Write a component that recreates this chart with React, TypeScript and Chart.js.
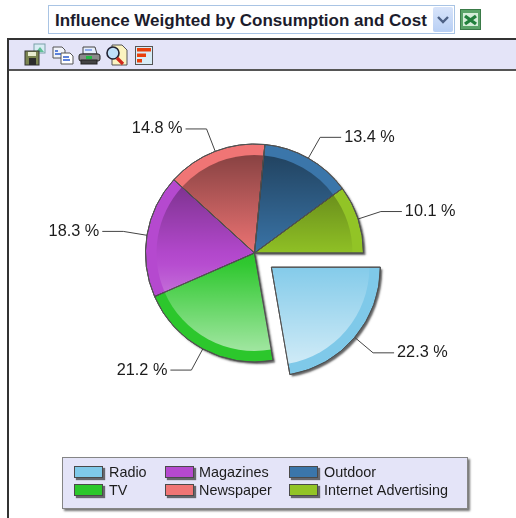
import React, { useEffect, useRef } from "react";
import { Chart, registerables } from "chart.js";

Chart.register(...registerables);

const categories = ["Radio", "TV", "Magazines", "Newspaper", "Outdoor", "Internet Advertising"];
const values = [22.3, 21.2, 18.3, 14.8, 13.4, 10.1];
const colors = ["#7fc9e9", "#2cc72c", "#b549cf", "#f07575", "#3b76aa", "#92c426"];
const explode = [22, 0, 0, 0, 0, 0];
const legendOrder = [[0, 1], [2, 3], [4, 5]];
const legendSwatchX = [65, 156, 280];
const legendTextX = [100, 190, 315];
const FONT = '"Liberation Sans", Arial, sans-serif';

const piePlugin = {
  id: "pieDecor",
  afterDatasetUpdate(chart: any) {
    const arcs = chart.getDatasetMeta(0).data;
    arcs.forEach((el: any, i: number) => {
      const d = explode[i];
      if (!d) return;
      const mid = (el.startAngle + el.endAngle) / 2;
      el.x += Math.cos(mid) * d;
      el.y += Math.sin(mid) * d;
    });
  },
  beforeDatasetDraw(chart: any) {
    const c = chart.ctx;
    const arcs = chart.getDatasetMeta(0).data;
    c.save();
    c.shadowColor = "rgba(60,60,60,0.8)";
    c.shadowBlur = 2;
    c.shadowOffsetX = 2;
    c.shadowOffsetY = 2;
    c.fillStyle = "#666";
    arcs.forEach((el: any) => {
      c.beginPath();
      c.moveTo(el.x, el.y);
      c.arc(el.x, el.y, el.outerRadius, el.startAngle, el.endAngle);
      c.closePath();
      c.fill();
    });
    c.restore();
  },
  afterDatasetDraw(chart: any) {
    const c = chart.ctx;
    const arcs = chart.getDatasetMeta(0).data;
    const baseY = arcs[1].y;
    arcs.forEach((el: any, idx: number) => {
      const mid = (el.startAngle + el.endAngle) / 2;
      const cx = el.x;
      const cy = el.y;
      const R = el.outerRadius;
      const g = c.createLinearGradient(0, baseY - R, 0, baseY + R);
      g.addColorStop(0, "rgba(0,0,0,0.48)");
      g.addColorStop(0.5, "rgba(0,0,0,0.02)");
      g.addColorStop(0.55, "rgba(255,255,255,0.02)");
      g.addColorStop(1, "rgba(255,255,255,0.62)");
      c.save();
      c.beginPath();
      c.moveTo(cx, cy);
      c.arc(cx, cy, R - 11, el.startAngle, el.endAngle);
      c.closePath();
      c.fillStyle = g;
      c.fill();
      c.beginPath();
      c.moveTo(cx, cy);
      c.arc(cx, cy, R, el.startAngle, el.endAngle);
      c.closePath();
      c.strokeStyle = "#505050";
      c.lineWidth = 1;
      c.stroke();
      c.restore();

      const edgeX = cx + Math.cos(mid) * R;
      const edgeY = cy + Math.sin(mid) * R;
      const elbowX = cx + Math.cos(mid) * (R + 24);
      const elbowY = cy + Math.sin(mid) * (R + 24);
      const right = Math.cos(mid) >= 0;
      const endX = elbowX + (right ? 21 : -21);
      c.save();
      c.beginPath();
      c.moveTo(edgeX, edgeY);
      c.lineTo(elbowX, elbowY);
      c.lineTo(endX, elbowY);
      c.strokeStyle = "#444";
      c.lineWidth = 1;
      c.stroke();
      c.fillStyle = "#1c1c1c";
      c.font = "16.3px " + FONT;
      c.textBaseline = "middle";
      c.textAlign = right ? "left" : "right";
      c.fillText(values[idx].toFixed(1) + " %", endX + (right ? 3 : -3), elbowY);
      c.restore();
    });
  },
  afterDraw(chart: any) {
    const c = chart.ctx;
    c.save();
    c.shadowColor = "rgba(60,60,60,0.7)";
    c.shadowBlur = 2;
    c.shadowOffsetX = 2;
    c.shadowOffsetY = 2;
    c.fillStyle = "#e4e4f8";
    c.fillRect(53, 386, 406, 52);
    c.shadowColor = "transparent";
    c.strokeStyle = "#858585";
    c.lineWidth = 1;
    c.strokeRect(53.5, 386.5, 405, 51);
    legendOrder.forEach((col, ci) => {
      col.forEach((idx, ri) => {
        const y = 395 + ri * 18;
        c.save();
        c.shadowColor = "rgba(50,50,50,0.7)";
        c.shadowBlur = 1;
        c.shadowOffsetX = 2;
        c.shadowOffsetY = 2;
        c.fillStyle = colors[idx];
        c.fillRect(legendSwatchX[ci], y, 29, 12);
        c.restore();
        c.strokeStyle = "#4a4a4a";
        c.lineWidth = 1;
        c.strokeRect(legendSwatchX[ci] + 0.5, y + 0.5, 28, 11);
        c.fillStyle = "#1c1c1c";
        c.font = "14.4px " + FONT;
        c.textBaseline = "middle";
        c.textAlign = "left";
        c.fillText(categories[idx], legendTextX[ci], y + 7);
      });
    });
    c.restore();
  },
};

function Toolbar() {
  return (
    <svg width={150} height={30} style={{ position: "absolute", left: 15, top: 40, filter: "blur(0.35px)" }}>
      {/* save */}
      <rect x="19" y="4" width="11" height="9" fill="#d8ecf4" stroke="#7aa0a8" />
      <path d="M21 12l4-5 4 5z" fill="#5fbf95" />
      <rect x="10" y="11" width="14" height="14" fill="#7a8450" stroke="#333" />
      <rect x="14" y="18" width="7" height="7" fill="#2c2c2c" />
      <rect x="13" y="12" width="8" height="4" fill="#e8ecd0" />
      {/* copy */}
      <path d="M38 7h9l3 3v8h-12z" fill="#f2f4fa" stroke="#555" />
      <path d="M46 13h9l3 3v8h-12z" fill="#fff" stroke="#555" />
      <path d="M40 11h3M40 14h6M48 17h6M48 20h7" stroke="#2b5bd0" strokeWidth="1.5" />
      {/* print */}
      <path d="M68 7h12l2 7h-14z" fill="#e6eefb" stroke="#444" />
      <path d="M70 10h7" stroke="#3a68d8" />
      <rect x="64" y="14" width="21" height="7" rx="2" fill="#8a8a8a" stroke="#222" />
      <rect x="66" y="20" width="16" height="4" fill="#444" stroke="#222" />
      <rect x="71" y="16" width="6" height="3" fill="#22bb44" />
      {/* preview */}
      <path d="M97 5h10l5 5v15h-15z" fill="#fbf3c0" stroke="#555" />
      <circle cx="98" cy="13" r="6" fill="#bfe0fb" stroke="#223" strokeWidth="1.6" />
      <path d="M102 18l6 6" stroke="#d0281c" strokeWidth="3.2" />
      {/* chart */}
      <rect x="120.5" y="6.5" width="17" height="18" fill="#d8ecf6" stroke="#555" />
      <rect x="122" y="8" width="14" height="3.5" fill="#e8400c" />
      <rect x="122" y="13.5" width="9" height="3.5" fill="#e8400c" />
      <rect x="122" y="19" width="5" height="3.5" fill="#e8400c" />
    </svg>
  );
}

export default function App() {
  const ref = useRef<HTMLCanvasElement | null>(null);
  useEffect(() => {
    if (!ref.current) return;
    const chart = new Chart(ref.current, {
      type: "pie",
      data: {
        labels: categories,
        datasets: [
          {
            data: values,
            backgroundColor: colors,
            borderColor: "#505050",
            borderWidth: 1,
          } as any,
        ],
      },
      options: {
        responsive: false,
        animation: false,
        rotation: 90,
        radius: 109,
        layout: { padding: { left: 0, top: 0, right: 16, bottom: 83 } },
        plugins: { legend: { display: false }, tooltip: { enabled: false }, title: { display: false } },
      } as any,
      plugins: [piePlugin],
    });
    return () => chart.destroy();
  }, []);

  return (
    <div style={{ position: "absolute", left: 0, top: 0, width: 516, height: 518, overflow: "hidden", background: "#fff", fontFamily: FONT }}>
      <div style={{ position: "absolute", left: 48, top: 5, width: 405, height: 27, border: "1px solid #a9c4e4", background: "#fff" }}>
        <span style={{ position: "absolute", left: 6, top: 5, fontWeight: 700, fontSize: 17, lineHeight: "20px", color: "#1c1c2c", whiteSpace: "nowrap" }}>
          Influence Weighted by Consumption and Cost
        </span>
        <div style={{ position: "absolute", right: 1, top: 1, width: 20, height: 25, background: "linear-gradient(#d8e4fa,#b8cff4)", borderRadius: 2 }}>
          <svg width={20} height={25}>
            <path d="M5 10l5 5 5-5" fill="none" stroke="#4d6185" strokeWidth="2.4" />
          </svg>
        </div>
      </div>
      <svg width={22} height={22} style={{ position: "absolute", left: 460, top: 9, filter: "blur(0.35px)" }}>
        <rect x="0.5" y="0.5" width="20" height="20" fill="#5aa468" stroke="#3a7a48" />
        <rect x="3" y="4" width="15" height="13" fill="#d5eed8" />
        <path d="M5 7l11 8M16 7l-11 8" stroke="#22803c" strokeWidth="3.4" />
      </svg>
      <div style={{ position: "absolute", left: 7, top: 38, width: 509, height: 33, background: "#e4e4f8", borderTop: "2px solid #333", borderBottom: "2px solid #555", boxSizing: "border-box" }} />
      <div style={{ position: "absolute", left: 7, top: 38, width: 2, height: 480, background: "#333" }} />
      <Toolbar />
      <canvas ref={ref} width={507} height={447} style={{ position: "absolute", left: 9, top: 71, display: "block" }} />
    </div>
  );
}
